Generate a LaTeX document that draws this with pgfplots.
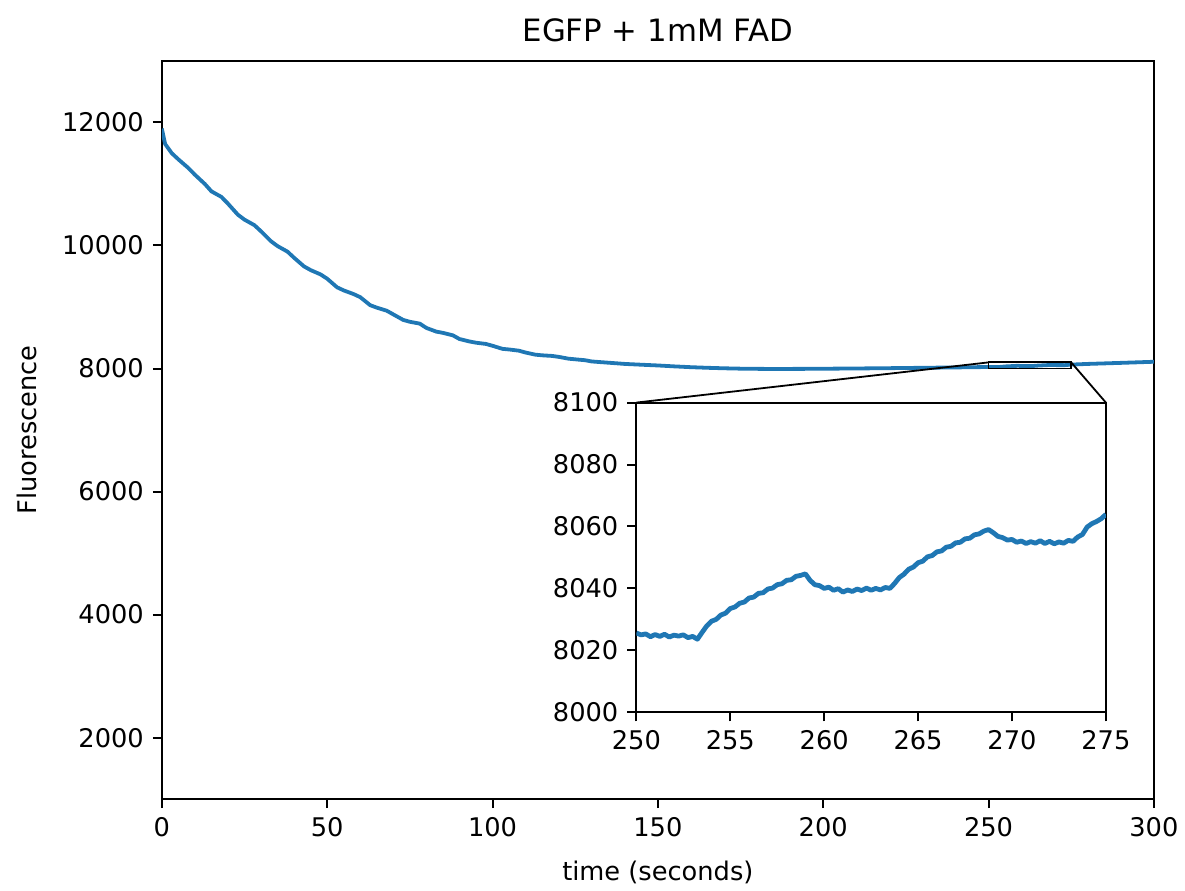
\documentclass[border=0pt]{standalone}
\usepackage{pgfplots}
\pgfplotsset{compat=1.18}
\usepackage{fontspec}
\setmainfont{DejaVu Sans}
\definecolor{tabblue}{HTML}{1F77B4}

\pgfplotstableread{
t y
0 11900
1 11650
3 11500
5 11400
8 11260
10 11150
13 11000
15 10880
18 10790
20 10680
23 10500
25 10420
28 10330
30 10230
33 10070
35 9990
38 9900
40 9800
43 9660
45 9600
48 9530
50 9460
53 9320
55 9270
58 9210
60 9160
63 9030
65 8990
68 8940
70 8880
73 8790
75 8760
78 8730
80 8660
83 8600
85 8580
88 8540
90 8480
93 8440
95 8420
98 8400
100 8370
103 8320
105 8310
108 8290
110 8260
113 8225
115 8215
118 8205
120 8190
123 8160
125 8150
128 8135
130 8115
135 8095
140 8075
145 8062
150 8050
155 8035
160 8022
165 8012
170 8004
175 7998
180 7995
185 7993
190 7994
195 7995
200 7997
210 8001
220 8006
230 8012
240 8018
250 8025
253 8024
255 8034
259 8045
260 8040
263 8040
265 8048
269 8059
270 8056
273 8055
275 8064
280 8075
290 8092
300 8110
}\maindata

\pgfplotstableread{
t y
250.00 8025.6
250.25 8025.0
250.50 8025.3
250.75 8024.4
251.00 8025.1
251.25 8024.5
251.50 8025.2
251.75 8024.3
252.00 8024.9
252.25 8024.6
252.50 8025.0
252.75 8024.1
253.00 8024.5
253.25 8023.6
253.50 8025.8
253.75 8027.9
254.00 8029.4
254.25 8030.0
254.50 8031.4
254.75 8032.0
255.00 8033.5
255.25 8034.0
255.50 8035.2
255.75 8035.6
256.00 8036.9
256.25 8037.2
256.50 8038.4
256.75 8038.6
257.00 8039.8
257.25 8040.1
257.50 8041.2
257.75 8041.5
258.00 8042.6
258.25 8042.8
258.50 8043.9
258.75 8044.2
259.00 8044.7
259.25 8042.6
259.50 8041.2
259.75 8040.9
260.00 8040.0
260.25 8040.4
260.50 8039.4
260.75 8039.9
261.00 8038.8
261.25 8039.5
261.50 8039.0
261.75 8039.8
262.00 8039.3
262.25 8040.1
262.50 8039.4
262.75 8040.0
263.00 8039.5
263.25 8040.3
263.50 8040.0
263.75 8041.6
264.00 8043.5
264.25 8044.6
264.50 8046.2
264.75 8046.9
265.00 8048.3
265.25 8048.8
265.50 8050.2
265.75 8050.6
266.00 8051.8
266.25 8052.1
266.50 8053.3
266.75 8053.6
267.00 8054.7
267.25 8054.9
267.50 8056.0
267.75 8056.2
268.00 8057.3
268.25 8057.6
268.50 8058.5
268.75 8059.0
269.00 8058.0
269.25 8056.8
269.50 8056.4
269.75 8055.6
270.00 8055.8
270.25 8054.9
270.50 8055.3
270.75 8054.5
271.00 8055.1
271.25 8054.6
271.50 8055.4
271.75 8054.5
272.00 8055.2
272.25 8054.4
272.50 8055.0
272.75 8054.6
273.00 8055.5
273.25 8055.2
273.50 8056.6
273.75 8057.4
274.00 8059.8
274.25 8060.9
274.50 8061.6
274.75 8062.5
275.00 8063.9
}\insetdata

\pgfplotsset{
  mplstyle/.style={
    scale only axis,
    anchor=south west,
    tick align=outside,
    tick pos=left,
    major tick length=4.5pt,
    axis line style={line width=1pt},
    every tick/.style={black, line width=1pt},
    tick label style={font=\fontsize{12.85}{15}\selectfont},
    label style={font=\fontsize{12.85}{15}\selectfont},
    /pgf/number format/assume math mode=true,
    /pgf/number format/set thousands separator={},
    scaled ticks=false,
    xticklabel style={yshift=-1pt},
    yticklabel style={xshift=-1pt},
  }
}

\begin{document}
\begin{tikzpicture}[x=1pt,y=1pt]
\path (0,0) rectangle (592.5,444);
\begin{axis}[mplstyle,
  at={(81pt,44pt)},
  width=496.5pt, height=369.5pt,
  xmin=0, xmax=300, ymin=1000, ymax=13000,
  xtick={0,50,...,300},
  ytick={2000,4000,...,12000},
  title={EGFP + 1mM FAD},
  title style={font=\fontsize{15.4}{18}\selectfont, yshift=0pt},
  xlabel={time (seconds)},
  ylabel={Fluorescence},
  xlabel style={yshift=-5.5pt},
  ylabel style={yshift=6pt},
]
\addplot[tabblue, line width=1.9pt, line join=round] table[x=t,y=y] {\maindata};
\draw[black, line width=0.9pt] (axis cs:250,8000) rectangle (axis cs:275,8100);
\coordinate (zl) at (axis cs:250,8100);
\coordinate (zr) at (axis cs:275,8100);
\end{axis}
\begin{axis}[mplstyle,
  at={(318.5pt,87.5pt)},
  width=235pt, height=155pt,
  xmin=250, xmax=275, ymin=8000, ymax=8100,
  xtick={250,255,...,275},
  ytick={8000,8020,...,8100},
  axis background/.style={fill=white},
]
\addplot[tabblue, line width=2.4pt, line join=round] table[x=t,y=y] {\insetdata};
\coordinate (il) at (rel axis cs:0,1);
\coordinate (ir) at (rel axis cs:1,1);
\end{axis}
\draw[black, line width=0.9pt] (zl) -- (il);
\draw[black, line width=0.9pt] (zr) -- (ir);
\end{tikzpicture}
\end{document}
